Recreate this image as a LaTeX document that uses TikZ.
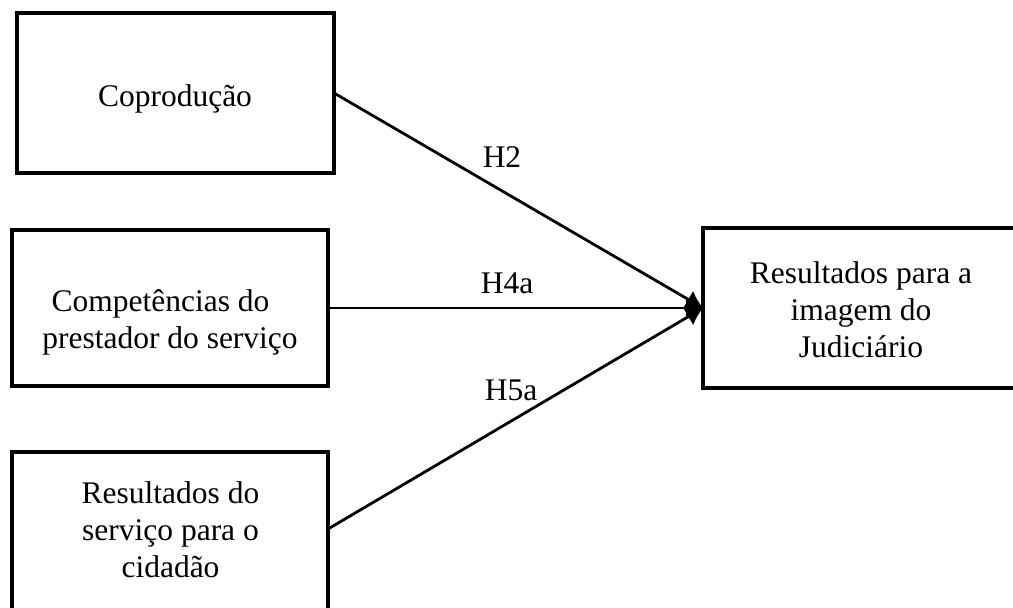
\documentclass[tikz,border=0pt]{standalone}
\usepackage{fontspec}
\setmainfont{Liberation Serif}
\usetikzlibrary{arrows.meta,calc}
\begin{document}
\begin{tikzpicture}[x=1pt,y=-1pt,
  box/.style={draw=black,line width=3.2pt,minimum width=#1,inner sep=0pt,outer sep=0pt},
  txt/.style={font=\fontsize{31.5}{37}\selectfont,align=center,anchor=base,inner sep=0pt},
  lbl/.style={font=\fontsize{31.5}{37}\selectfont,anchor=base,inner sep=0pt},
  conn/.style={line width=2.8pt,-{Latex[length=17pt,width=20pt]}}]
\useasboundingbox (0,0) rectangle (1013,608);
\clip (0,0) rectangle (1013,608);
\node[box=317pt,minimum height=160pt] (b1) at (175.5,93) {};
\node[box=316pt,minimum height=156pt] (b2) at (170,308) {};
\node[box=316pt,minimum height=163pt] (b3) at (170,533.5) {};
\node[box=317pt,minimum height=160pt] (b4) at (861.5,308) {};
\node[txt] (t1) at (175,106) {Coprodução};
\node[txt] (t2) at (170,348) {Competências do\kern19pt\\prestador do serviço};
\node[txt] (t3) at (170.5,577) {Resultados do\\serviço para o\\cidadão};
\node[txt] (t4) at (861,357) {Resultados para a\\imagem do\\Judiciário};
\draw[conn] (b1.east) -- (b4.west);
\draw[conn] (b2.east) -- (b4.west);
\draw[conn] ([yshift=4.5pt]b3.east) -- (b4.west);
\node[lbl] (h2) at (502,167) {H2};
\node[lbl] (h4a) at (507,293) {H4a};
\node[lbl] (h5a) at (511,400) {H5a};
\end{tikzpicture}
\end{document}
